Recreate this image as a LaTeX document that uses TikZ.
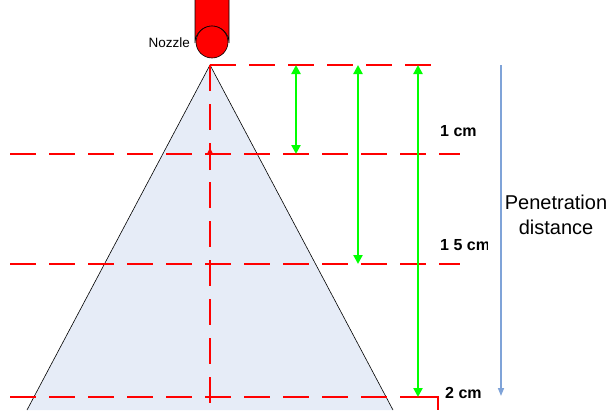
\documentclass[tikz,border=0pt]{standalone}
\usepackage{fontspec}
\setmainfont{Liberation Sans}
\usetikzlibrary{arrows.meta}
\definecolor{conefill}{HTML}{E6ECF7}
\definecolor{arrowgreen}{HTML}{00FF00}
\definecolor{penblue}{HTML}{7FA3D8}
\begin{document}
\begin{tikzpicture}[x=1pt,y=-1pt,
  reddash/.style={draw=red,line width=1.2pt,dash pattern=on 26pt off 13pt},
  greenarrow/.style={draw=arrowgreen,line width=2.8pt,{Triangle[length=9pt,width=9pt]}-{Triangle[length=9pt,width=9pt]}},
  cmlabel/.style={anchor=base west,inner sep=0pt,font=\fontsize{16}{18}\selectfont\bfseries},
  bigtext/.style={inner sep=0pt,font=\fontsize{20}{25}\selectfont,align=center}]
\useasboundingbox (0,0) rectangle (610,410);
% coordinates
\coordinate (apex) at (210,65);
\coordinate (coneL) at (27,410);
\coordinate (coneR) at (393,410);
% cone
\fill[conefill] (apex) -- (coneL) -- (coneR) -- cycle;
\draw[black,line width=0.6pt] (coneL) -- (apex) -- (coneR);
% red dashed guides
\draw[reddash] (210,65) -- (442,65);
\draw[reddash] (10,154) -- (460,154);
\draw[reddash] (10,264) -- (460,264);
\draw[reddash] (10,397) -- (438,397);
\draw[red,line width=1.2pt] (420,397) -- (438,397) -- (438,410);
\draw[reddash,dash phase=0pt] (210,65) -- (210,410);
\draw[red,line width=1.2pt,-{Stealth[length=6pt,width=6pt]}] (210,170) -- (210,148);
% nozzle
\draw[fill=red,line width=0.6pt] (195,-2) -- (195,43) arc[start angle=180,end angle=360,radius=17] -- (229,-2);
\draw[fill=red,line width=0.6pt] (212,42) circle[radius=16];
\node[anchor=base east,inner sep=0pt,font=\fontsize{13.5}{15}\selectfont] (noz) at (190,47) {Nozzle};
% green arrows
\coordinate (g1t) at (296,65); \coordinate (g1b) at (296,154);
\coordinate (g2t) at (358,65); \coordinate (g2b) at (358,264);
\coordinate (g3t) at (418,65); \coordinate (g3b) at (418,397);
\draw[greenarrow] (g1t) -- (g1b);
\draw[greenarrow] (g2t) -- (g2b);
\draw[greenarrow] (g3t) -- (g3b);
% labels (clipped like in the reference)
\begin{scope}
\clip (430,110) rectangle (475,145);
\node[cmlabel] (l1) at (440,136) {1 cm};
\end{scope}
\begin{scope}
\clip (430,225) rectangle (487,260);
\node[cmlabel] (l2) at (440,250) {1 5 cm};
\end{scope}
\begin{scope}
\clip (440,375) rectangle (482,408);
\node[cmlabel] (l3) at (445,398) {2 cm};
\end{scope}
% penetration arrow
\coordinate (pt) at (501,65); \coordinate (pb) at (501,396);
\draw[penblue,line width=1.5pt,-{Triangle[length=8pt,width=6pt]}] (pt) -- (pb);
\node[bigtext,anchor=north] (pen) at (556,195) {Penetration\\distance};
\end{tikzpicture}
\end{document}
